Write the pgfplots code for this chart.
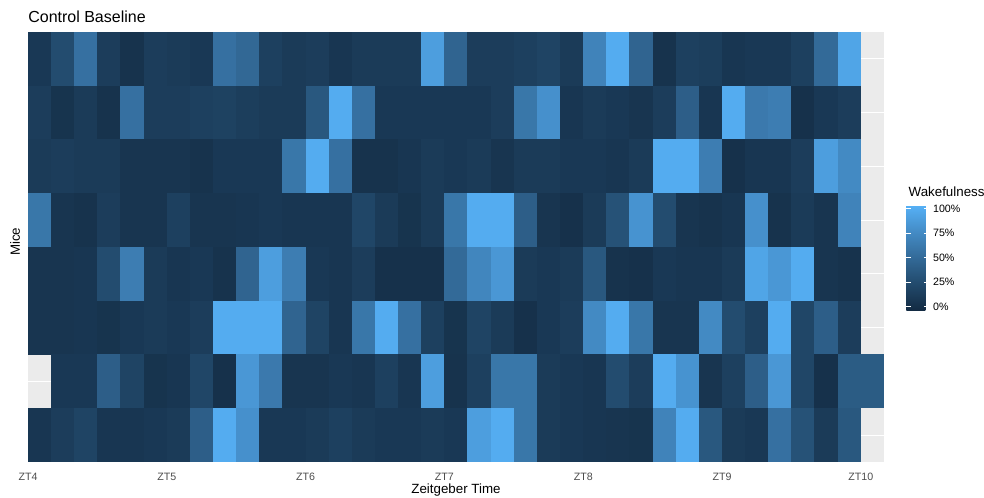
\documentclass[border=0pt]{standalone}
\usepackage{fontspec}
\setmainfont{Liberation Sans}
\usepackage{pgfplots}
\usepackage{pgfplotstable}
\pgfplotsset{compat=1.18}
\definecolor{panelbg}{RGB}{235,235,235}
\definecolor{gray30}{RGB}{77,77,77}
\pgfplotsset{colormap={ggblue}{rgb255(0)=(19,43,67) rgb255(1)=(34,74,108) rgb255(2)=(51,106,152) rgb255(3)=(68,140,198) rgb255(4)=(86,177,247)}}
\pgfdeclareplotmark{cell}{\pgfpathrectangle{\pgfpoint{-8.76pt}{-20.24pt}}{\pgfpoint{17.52pt}{40.48pt}}\pgfusepathqfill}

% one table per mouse: t = 10-min bin index from ZT4, w = wakefulness fraction
\pgfplotstableread[row sep=\\]{t w\\0 0.08\\1 0.25\\2 0.55\\3 0.12\\4 0.03\\5 0.12\\6 0.10\\7 0.08\\8 0.55\\9 0.48\\10 0.15\\11 0.10\\12 0.12\\13 0.06\\14 0.10\\15 0.10\\16 0.10\\17 0.90\\18 0.45\\19 0.12\\20 0.12\\21 0.15\\22 0.18\\23 0.10\\24 0.70\\25 1.00\\26 0.45\\27 0.03\\28 0.15\\29 0.13\\30 0.06\\31 0.08\\32 0.08\\33 0.15\\34 0.50\\35 0.95\\}\mouseA
\pgfplotstableread[row sep=\\]{t w\\0 0.12\\1 0.04\\2 0.10\\3 0.03\\4 0.55\\5 0.12\\6 0.12\\7 0.15\\8 0.16\\9 0.13\\10 0.10\\11 0.10\\12 0.35\\13 1.00\\14 0.55\\15 0.08\\16 0.08\\17 0.08\\18 0.08\\19 0.08\\20 0.12\\21 0.60\\22 0.80\\23 0.06\\24 0.10\\25 0.08\\26 0.05\\27 0.12\\28 0.40\\29 0.06\\30 1.00\\31 0.62\\32 0.65\\33 0.02\\34 0.08\\35 0.12\\}\mouseB
\pgfplotstableread[row sep=\\]{t w\\0 0.10\\1 0.12\\2 0.10\\3 0.10\\4 0.05\\5 0.05\\6 0.05\\7 0.03\\8 0.08\\9 0.08\\10 0.08\\11 0.60\\12 1.00\\13 0.55\\14 0.03\\15 0.03\\16 0.06\\17 0.10\\18 0.08\\19 0.10\\20 0.05\\21 0.10\\22 0.10\\23 0.08\\24 0.08\\25 0.06\\26 0.10\\27 1.00\\28 1.00\\29 0.65\\30 0.02\\31 0.06\\32 0.06\\33 0.12\\34 0.90\\35 0.75\\}\mouseC
\pgfplotstableread[row sep=\\]{t w\\0 0.60\\1 0.05\\2 0.03\\3 0.12\\4 0.05\\5 0.05\\6 0.15\\7 0.05\\8 0.05\\9 0.06\\10 0.08\\11 0.06\\12 0.06\\13 0.06\\14 0.20\\15 0.10\\16 0.04\\17 0.10\\18 0.60\\19 1.00\\20 1.00\\21 0.40\\22 0.05\\23 0.02\\24 0.10\\25 0.30\\26 0.82\\27 0.25\\28 0.05\\29 0.03\\30 0.06\\31 0.80\\32 0.03\\33 0.10\\34 0.05\\35 0.70\\}\mouseD
\pgfplotstableread[row sep=\\]{t w\\0 0.05\\1 0.05\\2 0.06\\3 0.25\\4 0.65\\5 0.10\\6 0.06\\7 0.08\\8 0.03\\9 0.45\\10 0.90\\11 0.65\\12 0.08\\13 0.06\\14 0.12\\15 0.02\\16 0.02\\17 0.02\\18 0.50\\19 0.72\\20 0.85\\21 0.10\\22 0.08\\23 0.10\\24 0.35\\25 0.03\\26 0.02\\27 0.08\\28 0.06\\29 0.06\\30 0.10\\31 0.95\\32 0.85\\33 1.00\\34 0.05\\35 0.03\\}\mouseE
\pgfplotstableread[row sep=\\]{t w\\0 0.05\\1 0.05\\2 0.06\\3 0.04\\4 0.08\\5 0.10\\6 0.08\\7 0.12\\8 1.00\\9 1.00\\10 1.00\\11 0.45\\12 0.18\\13 0.06\\14 0.60\\15 1.00\\16 0.55\\17 0.15\\18 0.04\\19 0.18\\20 0.10\\21 0.02\\22 0.08\\23 0.12\\24 0.75\\25 1.00\\26 0.60\\27 0.05\\28 0.05\\29 0.75\\30 0.25\\31 0.15\\32 1.00\\33 0.20\\34 0.40\\35 0.12\\}\mouseF
\pgfplotstableread[row sep=\\]{t w\\1 0.08\\2 0.08\\3 0.40\\4 0.18\\5 0.04\\6 0.06\\7 0.20\\8 0.02\\9 0.85\\10 0.62\\11 0.05\\12 0.05\\13 0.08\\14 0.06\\15 0.15\\16 0.06\\17 0.90\\18 0.03\\19 0.15\\20 0.60\\21 0.60\\22 0.10\\23 0.08\\24 0.06\\25 0.25\\26 0.12\\27 1.00\\28 0.82\\29 0.05\\30 0.15\\31 0.40\\32 0.85\\33 0.20\\34 0.02\\35 0.38\\36 0.38\\}\mouseG
\pgfplotstableread[row sep=\\]{t w\\0 0.06\\1 0.12\\2 0.18\\3 0.06\\4 0.06\\5 0.08\\6 0.10\\7 0.40\\8 1.00\\9 0.80\\10 0.08\\11 0.08\\12 0.10\\13 0.15\\14 0.10\\15 0.08\\16 0.08\\17 0.10\\18 0.08\\19 0.90\\20 1.00\\21 0.60\\22 0.10\\23 0.08\\24 0.06\\25 0.05\\26 0.04\\27 0.70\\28 1.00\\29 0.35\\30 0.10\\31 0.08\\32 0.55\\33 0.30\\34 0.10\\35 0.35\\}\mouseH

\begin{document}
\begin{tikzpicture}
\begin{axis}[
  at={(0,0)}, anchor=south west,
  scale only axis, width=642pt, height=322.5pt,
  xmin=-0.5, xmax=36.5, ymin=-0.5, ymax=7.5, y dir=reverse,
  axis background/.style={fill=panelbg},
  axis line style={draw=none},
  xtick={-0.5,5.5,11.5,17.5,23.5,29.5,35.5},
  xticklabels={ZT4,ZT5,ZT6,ZT7,ZT8,ZT9,ZT10},
  xtick style={draw=none}, ytick style={draw=none},
  xticklabel style={font=\fontsize{8}{9.6}\selectfont, text=gray30, anchor=base, yshift=-13.6pt},
  ytick={0,1,2,3,4,5,6,7}, yticklabels={},
  ymajorgrids, major grid style={white, line width=0.8pt},
  title={Control Baseline},
  title style={at={(axis description cs:0,1)}, anchor=base west, yshift=1.5pt, xshift=-3.3pt, font=\fontsize{12}{14.4}\selectfont},
  xlabel={Zeitgeber Time},
  every axis x label/.style={at={(axis description cs:0.5,0)}, anchor=base, yshift=-23.25pt, font=\fontsize{10}{12}\selectfont},
  ylabel={Mice},
  every axis y label/.style={at={(axis description cs:-0.0152,0.512)}, rotate=90, anchor=center, font=\fontsize{10}{12}\selectfont},
  colormap name=ggblue,
  point meta min=-0.035, point meta max=1.035,
  colorbar,
  colorbar style={
    at={(parent axis.east)}, anchor=west, xshift=8.25pt, yshift=-7.9pt,
    scale only axis, width=16.5pt, height=78.75pt,
    axis line style={draw=none},
    ytick={0,0.25,0.5,0.75,1},
    yticklabels={0\%,25\%,50\%,75\%,100\%},
    yticklabel style={font=\fontsize{8}{9.6}\selectfont, text=black},
    ytick pos=both, yticklabel pos=right, tick align=inside,
    major tick length=3.3pt,
    tick style={white, line width=0.4pt},
    title={Wakefulness},
    title style={at={(0,1)}, anchor=base west, yshift=0.75pt, xshift=-1.8pt, font=\fontsize{10}{12}\selectfont},
  },
]
\addplot[scatter, only marks, mark=cell, point meta=explicit] table[x=t, y expr=0, meta=w]{\mouseA};
\addplot[scatter, only marks, mark=cell, point meta=explicit] table[x=t, y expr=1, meta=w]{\mouseB};
\addplot[scatter, only marks, mark=cell, point meta=explicit] table[x=t, y expr=2, meta=w]{\mouseC};
\addplot[scatter, only marks, mark=cell, point meta=explicit] table[x=t, y expr=3, meta=w]{\mouseD};
\addplot[scatter, only marks, mark=cell, point meta=explicit] table[x=t, y expr=4, meta=w]{\mouseE};
\addplot[scatter, only marks, mark=cell, point meta=explicit] table[x=t, y expr=5, meta=w]{\mouseF};
\addplot[scatter, only marks, mark=cell, point meta=explicit] table[x=t, y expr=6, meta=w]{\mouseG};
\addplot[scatter, only marks, mark=cell, point meta=explicit] table[x=t, y expr=7, meta=w]{\mouseH};
\end{axis}
\pgfresetboundingbox
\useasboundingbox (-21pt,-26.25pt) rectangle (717pt,346.5pt);
\end{tikzpicture}
\end{document}
